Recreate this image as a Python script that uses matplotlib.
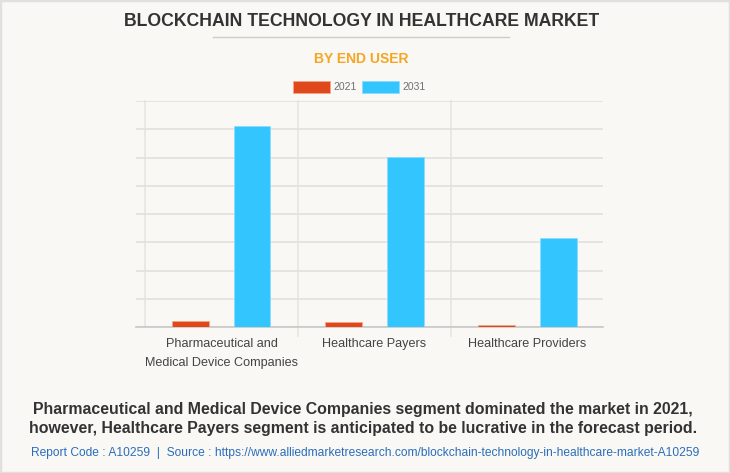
import numpy as np
import matplotlib.pyplot as plt
from matplotlib.patches import Rectangle
from matplotlib.lines import Line2D

plt.rcParams['font.family'] = ['Liberation Sans', 'DejaVu Sans']

categories = ['Pharmaceutical and\nMedical Device Companies', 'Healthcare Payers', 'Healthcare Providers']
years = ['2021', '2031']
values_2021 = [5.8, 4.5, 2.0]
values_2031 = [178.0, 150.5, 78.5]
grid_ticks = [0, 25, 50, 75, 100, 125, 150, 175, 200]

bg = '#f9f8f4'
red = '#e0481b'
blue = '#33c6fe'

fig = plt.figure(figsize=(7.3, 4.73), dpi=100, facecolor=bg)
fig.patches.append(Rectangle((0, 0), 1, 1, transform=fig.transFigure, fill=False,
                             edgecolor='#e0e0e0', linewidth=2.5, zorder=10))

ax = fig.add_axes([136 / 730, 1 - 327.3 / 473, 467 / 730, 226.3 / 473])
ax.set_facecolor(bg)

x = np.arange(len(categories))
w = 0.24
ax.bar(x - 0.205, values_2021, w, color=red, edgecolor='#f4a58a', linewidth=0.6, zorder=3)
ax.bar(x + 0.2, values_2031, w, color=blue, edgecolor='#8ddcfc', linewidth=0.6, zorder=3)

ax.set_xlim(-0.559, 2.493)
ax.set_ylim(0, 200)
ax.set_yticks(grid_ticks)
ax.yaxis.grid(True, color='#e2e1dc', linewidth=1.2, zorder=0)
ax.tick_params(axis='y', length=0, labelleft=False)
ax.set_xticks(x)
ax.set_xticklabels(categories, fontsize=9.1, color='#444444', linespacing=1.75)
ax.tick_params(axis='x', length=0, pad=8)
for s in ['top', 'right', 'left']:
    ax.spines[s].set_visible(False)
ax.spines['bottom'].set_color('#c8c8c8')
ax.spines['bottom'].set_linewidth(1.2)

# category separators
for b in [-0.5, 0.5, 1.5]:
    y0 = -0.04 if b > 0 else 0
    ax.plot([b, b], [y0, 1], transform=ax.get_xaxis_transform(), color='#e6e5e0',
            linewidth=1.2, zorder=1, clip_on=False)

# title block
fig.text(361.5 / 730, 1 - 21 / 473, 'BLOCKCHAIN TECHNOLOGY IN HEALTHCARE MARKET', ha='center', va='center',
         fontsize=12.7, fontweight='bold', color='#333333')
fig.add_artist(Line2D([213 / 730, 509 / 730], [1 - 37 / 473, 1 - 37 / 473], color='#cccccc', linewidth=1))
fig.text(361 / 730, 1 - 59 / 473, 'BY END USER', ha='center', va='center',
         fontsize=10, fontweight='bold', color='#f5a623')

# legend
handles = [Rectangle((0, 0), 1, 1, facecolor=red, edgecolor='#f4a58a', linewidth=0.6),
           Rectangle((0, 0), 1, 1, facecolor=blue, edgecolor='#8ddcfc', linewidth=0.6)]
fig.legend(handles, years, loc='center', bbox_to_anchor=(359.5 / 730, 1 - 87 / 473), ncol=2, frameon=False,
           fontsize=7.5, labelcolor='#707070', handlelength=3.5, handleheight=1.4,
           handletextpad=0.35, columnspacing=0.5)

# footer
fig.text(363 / 730, 1 - 419 / 473,
         'Pharmaceutical and Medical Device Companies segment dominated the market in 2021,\n'
         'however, Healthcare Payers segment is anticipated to be lucrative in the forecast period.',
         ha='center', va='center', fontsize=11.45, fontweight='bold', color='#333333', linespacing=1.4)
fig.text(0.5, 1 - 453 / 473,
         'Report Code : A10259  |  Source : https://www.alliedmarketresearch.com/blockchain-technology-in-healthcare-market-A10259',
         ha='center', va='center', fontsize=8.65, color='#2a6ebb')

fig.savefig('out.png', dpi=100, facecolor=bg)
